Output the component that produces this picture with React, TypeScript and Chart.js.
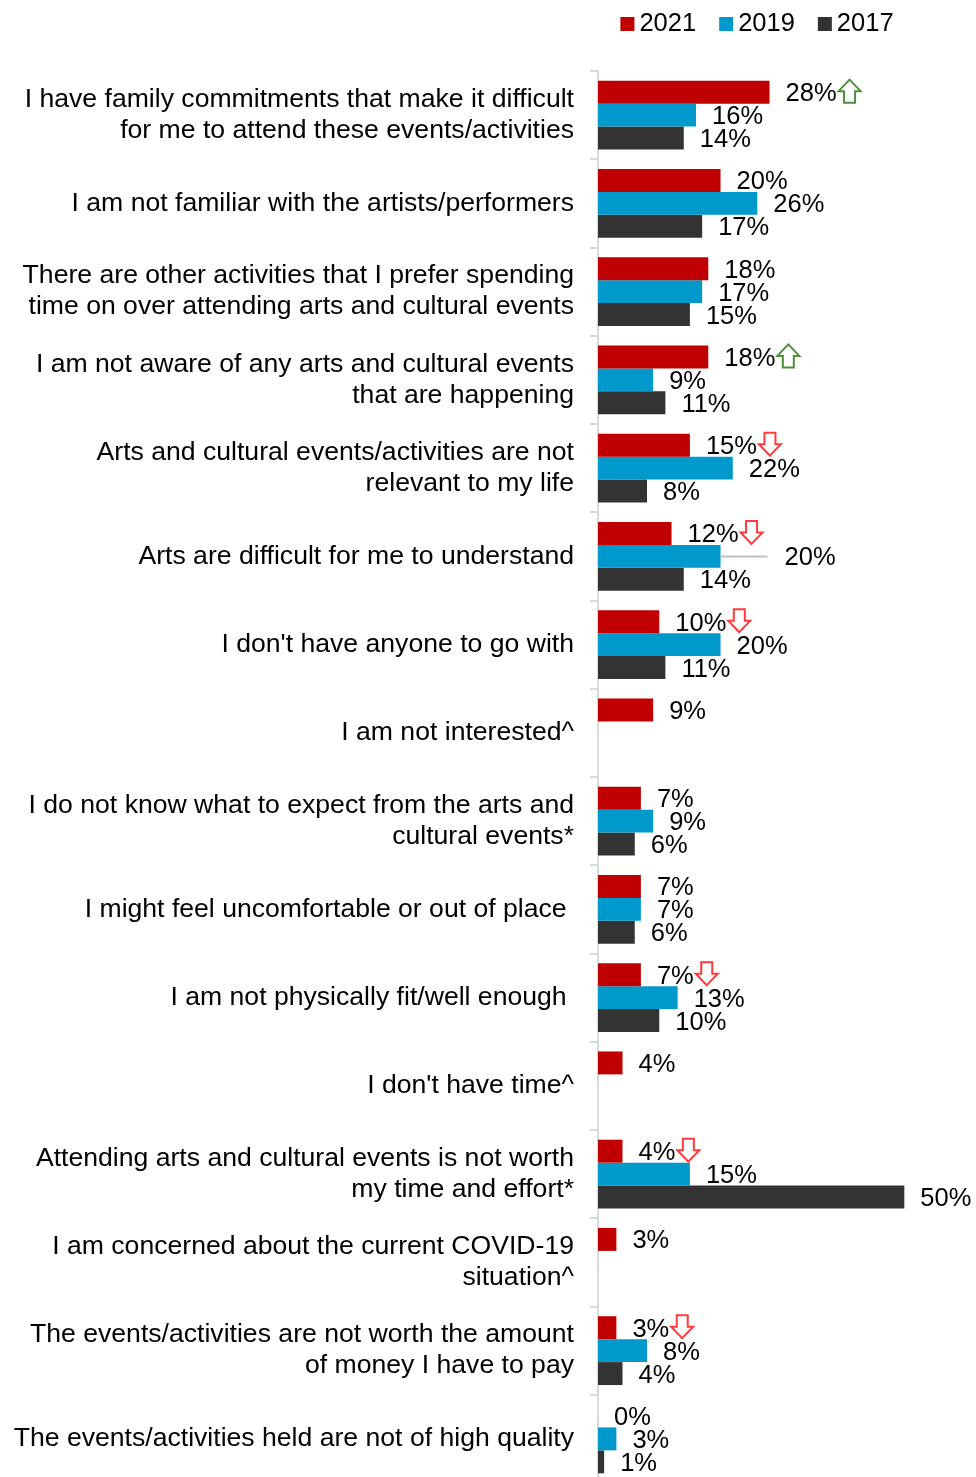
import React, { useEffect, useRef } from 'react';
import { Chart, registerables } from 'chart.js';

Chart.register(...registerables);

const FONT = '"Liberation Sans", Arial, sans-serif';

const categories: (string | string[])[] = [
  ['I have family commitments that make it difficult', 'for me to attend these events/activities'],
  'I am not familiar with the artists/performers',
  ['There are other activities that I prefer spending', 'time on over attending arts and cultural events'],
  ['I am not aware of any arts and cultural events', 'that are happening'],
  ['Arts and cultural events/activities are not', 'relevant to my life'],
  'Arts are difficult for me to understand',
  "I don't have anyone to go with",
  'I am not interested^',
  ['I do not know what to expect from the arts and', 'cultural events*'],
  'I might feel uncomfortable or out of place ',
  'I am not physically fit/well enough ',
  "I don't have time^",
  ['Attending arts and cultural events is not worth', 'my time and effort*'],
  ['I am concerned about the current COVID-19', 'situation^'],
  ['The events/activities are not worth the amount', 'of money I have to pay'],
  'The events/activities held are not of high quality',
];

const seriesNames = ['2021', '2019', '2017'];
const values2021: (number | null)[] = [28, 20, 18, 18, 15, 12, 10, 9, 7, 7, 7, 4, 4, 3, 3, 0];
const values2019: (number | null)[] = [16, 26, 17, 9, 22, 20, 20, null, 9, 7, 13, null, 15, null, 8, 3];
const values2017: (number | null)[] = [14, 17, 15, 11, 8, 14, 11, null, 6, 6, 10, null, 50, null, 4, 1];
const changes2021: (string | null)[] = ['up', null, null, 'up', 'down', 'down', 'down', null, null, null, 'down', null, 'down', null, 'down', null];
const seriesColors = ['#C00000', '#0099CC', '#333333'];

// label of dataset 1 (2019), category 5, is pushed out with a leader line
const leaderLabels = [{ dataset: 1, index: 5, length: 47, gap: 17 }];

function drawArrow(ctx: CanvasRenderingContext2D, left: number, cy: number, dir: string) {
  const w = 22, h = 23, sw = 5.5;
  const cx = left + w / 2;
  const top = cy - h / 2 - 1, bot = cy + h / 2 - 1;
  const hh = h * 0.5;
  ctx.beginPath();
  if (dir === 'up') {
    ctx.moveTo(cx, top);
    ctx.lineTo(left + w, top + hh);
    ctx.lineTo(cx + sw, top + hh);
    ctx.lineTo(cx + sw, bot);
    ctx.lineTo(cx - sw, bot);
    ctx.lineTo(cx - sw, top + hh);
    ctx.lineTo(left, top + hh);
    ctx.closePath();
    ctx.strokeStyle = '#4E8F3A';
  } else {
    ctx.moveTo(cx, bot);
    ctx.lineTo(left + w, bot - hh);
    ctx.lineTo(cx + sw, bot - hh);
    ctx.lineTo(cx + sw, top);
    ctx.lineTo(cx - sw, top);
    ctx.lineTo(cx - sw, bot - hh);
    ctx.lineTo(left, bot - hh);
    ctx.closePath();
    ctx.strokeStyle = '#FF3B3B';
  }
  ctx.fillStyle = '#FFFFFF';
  ctx.fill();
  ctx.lineWidth = 2;
  ctx.stroke();
}

const labelPlugin = {
  id: 'barLabels',
  afterDatasetsDraw(chart: any) {
    const ctx: CanvasRenderingContext2D = chart.ctx;
    ctx.save();
    ctx.font = `25.5px ${FONT}`;
    ctx.textBaseline = 'middle';
    ctx.textAlign = 'left';
    chart.data.datasets.forEach((ds: any, di: number) => {
      const meta = chart.getDatasetMeta(di);
      meta.data.forEach((bar: any, i: number) => {
        const v = ds.data[i];
        if (v === null || v === undefined) return;
        const { x, y } = bar.getProps(['x', 'y'], true);
        let lx = x + 16;
        const leader = leaderLabels.find((l) => l.dataset === di && l.index === i);
        if (leader) {
          ctx.strokeStyle = '#BFBFBF';
          ctx.lineWidth = 2;
          ctx.beginPath();
          ctx.moveTo(x, y);
          ctx.lineTo(x + leader.length, y);
          ctx.stroke();
          lx = x + leader.length + leader.gap;
        }
        const text = `${v}%`;
        ctx.fillStyle = '#000000';
        ctx.fillText(text, lx, y + 2);
        if (di === 0 && changes2021[i]) {
          drawArrow(ctx, lx + ctx.measureText(text).width + 2, y, changes2021[i] as string);
        }
      });
    });
    ctx.restore();
  },
};

const legendPlugin = {
  id: 'topLegend',
  afterDraw(chart: any) {
    const ctx: CanvasRenderingContext2D = chart.ctx;
    ctx.save();
    ctx.font = `25.5px ${FONT}`;
    ctx.textBaseline = 'middle';
    ctx.textAlign = 'left';
    const box = 14, gapText = 5, gapItem = 23;
    const items = chart.data.datasets.map((ds: any) => ({
      label: ds.label as string,
      color: ds.backgroundColor as string,
      w: ctx.measureText(ds.label).width,
    }));
    const total = items.reduce((s: number, it: any) => s + box + gapText + it.w, 0) + gapItem * (items.length - 1);
    let x = 757 - total / 2;
    const cy = 24;
    items.forEach((it: any) => {
      ctx.fillStyle = it.color;
      ctx.fillRect(x, cy - box / 2, box, box);
      ctx.fillStyle = '#000000';
      ctx.fillText(it.label, x + box + gapText, cy);
      x += box + gapText + it.w + gapItem;
    });
    ctx.restore();
  },
};

export default function App() {
  const ref = useRef<HTMLCanvasElement | null>(null);
  useEffect(() => {
    if (!ref.current) return;
    const chart = new Chart(ref.current, {
      type: 'bar',
      data: {
        labels: categories,
        datasets: [
          { label: seriesNames[0], data: values2021, backgroundColor: seriesColors[0] },
          { label: seriesNames[1], data: values2019, backgroundColor: seriesColors[1] },
          { label: seriesNames[2], data: values2017, backgroundColor: seriesColors[2] },
        ],
      },
      options: {
        indexAxis: 'y',
        responsive: false,
        animation: false,
        devicePixelRatio: 1,
        layout: { padding: { top: 71, bottom: 51, left: 0, right: 0 } },
        datasets: { bar: { categoryPercentage: 0.78, barPercentage: 1 } },
        plugins: { legend: { display: false }, tooltip: { enabled: false } },
        scales: {
          x: { display: false, min: 0, max: 61.7 },
          y: {
            grid: {
              display: true,
              drawOnChartArea: false,
              drawTicks: true,
              tickLength: 8,
              color: '#D9D9D9',
              lineWidth: 2,
              offset: true,
            },
            border: { display: true, color: '#D9D9D9', width: 2 },
            ticks: {
              color: '#000000',
              autoSkip: false,
              padding: 16,
              font: { family: FONT, size: 26.6, lineHeight: 1.165 },
            },
            afterFit: (scale: any) => {
              scale.width = 598;
            },
          },
        },
      } as any,
      plugins: [labelPlugin, legendPlugin],
    });
    return () => chart.destroy();
  }, []);
  return (
    <div style={{ position: 'absolute', left: 0, top: 0, width: 976, height: 1477, overflow: 'hidden', background: '#fff' }}>
      <canvas ref={ref} width={976} height={1534} style={{ display: 'block' }} />
    </div>
  );
}
